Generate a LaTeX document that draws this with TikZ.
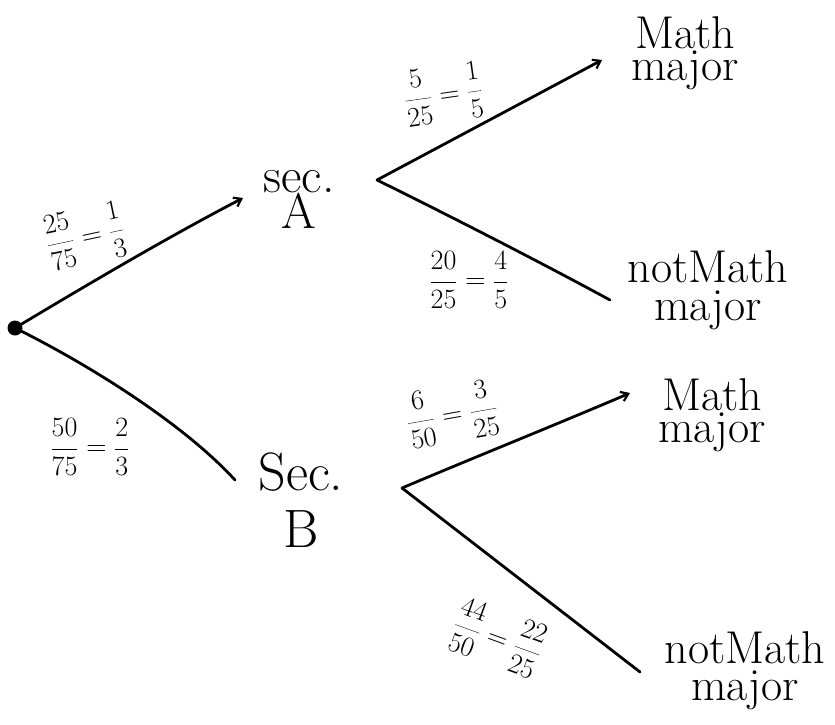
\RequirePackage{fix-cm}
\documentclass[tikz,border=0pt]{standalone}
\usetikzlibrary{arrows.meta}
\begin{document}
\begin{tikzpicture}[x=1pt,y=-1pt,
  branch/.style={line width=2.8pt, line cap=round},
  tipped/.style={-{Straight Barb[length=7pt,width=10pt,line width=2.2pt]}},
  outcome/.style={font=\fontsize{46}{32}\selectfont, align=center, inner sep=0pt},
  prob/.style={font=\fontsize{28}{28}\selectfont, inner sep=0pt}]
\useasboundingbox (0,0) rectangle (835,724);
% nodes
\node[circle, fill, inner sep=0pt, minimum size=15pt] (root) at (15,328) {};
\node[outcome, font=\fontsize{50}{36}\selectfont] (secA) at (299,199) {sec.\\A};
\node[outcome, font=\fontsize{54}{57}\selectfont] (secB) at (301,500) {Sec.\\B};
\node[outcome] (m1) at (685,53) {Math\\major};
\node[outcome, font=\fontsize{46}{38}\selectfont] (n1) at (708,290) {notMath\\major};
\node[outcome] (m2) at (712,415) {Math\\major};
\node[outcome, font=\fontsize{46}{37}\selectfont] (n2) at (745,671) {notMath\\major};
% connector ends
\coordinate (secA-in) at (243,198);
\coordinate (secA-out) at (377,180);
\coordinate (secB-in) at (235,480);
\coordinate (secB-out) at (402,488);
\coordinate (m1-in) at (602,60);
\coordinate (n1-in) at (610,300);
\coordinate (m2-in) at (630,393);
\coordinate (n2-in) at (640,672);
% connectors
\draw[branch, tipped] (root.center) .. controls (90,283) and (170,236) .. (secA-in);
\draw[branch] (root.center) .. controls (80,360) and (180,420) .. (secB-in);
\draw[branch, tipped] (secA-out) -- (m1-in);
\draw[branch] (secA-out) .. controls (450,216) and (540,262) .. (n1-in);
\draw[branch, tipped] (secB-out) .. controls (480,455) and (560,423) .. (m2-in);
\draw[branch] (secB-out) -- (n2-in);
% probabilities
\node[prob, rotate=12] (pA) at (85,236) {$\displaystyle\frac{25}{75}=\frac{1}{3}$};
\node[prob] (pB) at (90,447) {$\displaystyle\frac{50}{75}=\frac{2}{3}$};
\node[prob, rotate=8] (pAM) at (443,94) {$\displaystyle\frac{5}{25}=\frac{1}{5}$};
\node[prob] (pAN) at (469,280) {$\displaystyle\frac{20}{25}=\frac{4}{5}$};
\node[prob, rotate=10] (pBM) at (452,414) {$\displaystyle\frac{6}{50}=\frac{3}{25}$};
\node[prob, rotate=-20] (pBN) at (498,638) {$\displaystyle\frac{44}{50}=\frac{22}{25}$};
\end{tikzpicture}
\end{document}
